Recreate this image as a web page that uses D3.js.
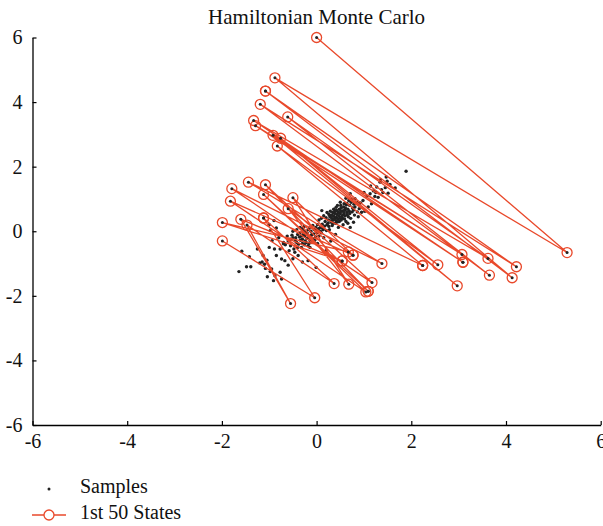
<!DOCTYPE html>
<html>
<head>
<meta charset="utf-8">
<script src="https://cdn.jsdelivr.net/npm/d3@7"></script>
<style>
  body { margin: 0; background: #fff; }
  text { font-family: "Liberation Serif", "DejaVu Serif", serif; }
</style>
</head>
<body>
<script>
const title = 'Hamiltonian Monte Carlo'
const xTicks = [-6, -4, -2, 0, 2, 4, 6]
const yTicks = [-6, -4, -2, 0, 2, 4, 6]
const legendLabels = ['Samples', '1st 50 States']

// first 50 states of the chain (repeats = rejected proposals)
const states = [
  [0, 6.0], [5.29, -0.66], [-0.88, 4.75], [4.13, -1.44], [-1.08, 4.34], [-1.08, 4.34],
  [4.22, -1.10], [-1.19, 3.93], [3.65, -1.36], [-0.61, 3.54], [3.62, -0.84],
  [-1.33, 3.43], [3.09, -0.96], [3.09, -0.96], [-1.29, 3.27], [3.07, -0.72],
  [-0.92, 2.97], [2.97, -1.69], [-0.76, 2.88], [2.56, -1.04], [-0.83, 2.64],
  [2.24, -1.06], [2.24, -1.06], [-1.44, 1.52], [1.38, -1.00], [-1.79, 1.32],
  [1.17, -1.59], [-1.08, 1.44], [1.09, -1.86], [1.09, -1.86], [-1.12, 1.14],
  [1.04, -1.88], [-1.82, 0.93], [0.77, -0.74], [0.77, -0.74], [-0.50, 1.04],
  [0.68, -1.64], [-0.60, 0.70], [0.67, -0.64], [-1.99, 0.27], [0.54, -0.92],
  [0.54, -0.92], [-1.60, 0.37], [-0.55, -2.24], [-1.47, 0.19], [0.37, -1.62],
  [-1.12, 0.41], [-1.12, 0.41], [-0.04, -2.06], [-1.99, -0.30]
]

const samplesUpperTail = [
  [1.89, 1.86], [1.47, 1.68], [1.49, 1.55], [1.66, 1.34], [1.51, 1.18], [1.37, 1.29],
  [1.27, 1.37], [1.34, 1.52], [1.14, 1.40], [1.13, 1.16], [1.06, 1.08], [1.23, 1.08],
  [1.16, 0.85], [1.09, 0.75], [1.55, 1.45], [1.40, 1.20], [1.30, 1.05], [0.98, 0.95],
  [1.20, 1.25], [0.71, 1.16], [0.81, 1.01], [0.95, 0.59], [0.78, 0.28], [1.02, 0.62],
  [0.90, 0.85], [1.45, 1.35], [1.25, 1.20], [1.00, 1.20], [1.35, 1.60]
]
const samplesUpperCore = [
  [0.42, 0.43], [0.11, 0.64], [0.81, 0.75], [0.21, 0.02], [0.71, 0.12], [0.30, 0.50],
  [0.35, 0.35], [0.50, 0.55], [0.55, 0.40], [0.60, 0.65], [0.45, 0.60], [0.40, 0.25],
  [0.25, 0.35], [0.65, 0.50], [0.70, 0.80], [0.75, 0.60], [0.52, 0.72], [0.38, 0.55],
  [0.48, 0.30], [0.58, 0.85], [0.62, 0.30], [0.33, 0.18], [0.28, 0.45], [0.18, 0.30],
  [0.15, 0.48], [0.44, 0.80], [0.68, 0.95], [0.85, 0.90], [0.90, 0.70], [0.80, 0.50],
  [0.56, 0.20], [0.46, 0.12], [0.36, 0.68], [0.22, 0.58], [0.12, 0.22], [0.05, 0.35],
  [0.08, 0.12], [0.66, 0.68], [0.72, 0.40], [0.54, 0.62], [0.47, 0.47], [0.39, 0.40],
  [0.31, 0.28], [0.26, 0.15], [0.60, 0.48], [0.64, 0.58], [0.57, 0.75], [0.50, 0.90],
  [0.42, 0.65], [0.34, 0.58], [0.20, 0.42], [0.14, 0.05], [0.02, 0.20], [0.76, 0.72],
  [0.86, 0.60], [0.93, 0.88], [0.74, 1.00], [0.62, 1.02], [0.52, 0.35], [0.43, 0.52],
  [0.37, 0.46], [0.29, 0.62], [0.58, 0.55], [0.69, 0.62], [0.79, 0.84], [0.48, 0.68],
  [0.41, 0.33], [0.32, 0.40], [0.24, 0.25], [0.17, 0.16], [0.55, 0.50], [0.63, 0.82],
  [0.45, 0.38], [0.35, 0.25], [0.66, 0.25], [0.27, 0.05], [0.10, 0.40], [0.51, 0.80],
  [0.88, 0.45], [0.00, 0.05], [0.46, 0.56], [0.53, 0.46], [0.39, 0.62], [0.61, 0.72],
  [0.33, 0.49], [0.49, 0.40], [0.57, 0.64], [0.44, 0.29], [0.67, 0.45], [0.73, 0.90],
  [0.26, 0.52], [0.36, 0.37], [0.59, 0.38], [0.51, 0.62], [0.41, 0.74], [0.64, 0.86],
  [0.22, 0.20], [0.30, 0.32], [0.70, 0.55], [0.78, 0.66]
]
const samplesLowerCore = [
  [-0.35, 0.12], [-0.14, -0.29], [-0.25, -0.15], [-0.20, -0.05], [-0.30, -0.25],
  [-0.40, -0.10], [-0.10, -0.10], [-0.05, 0.05], [-0.45, -0.30], [-0.50, -0.20],
  [-0.15, 0.10], [-0.28, 0.00], [-0.38, -0.40], [-0.22, -0.35], [-0.08, -0.22],
  [0.00, -0.05], [0.05, -0.15], [-0.55, -0.45], [-0.60, -0.30], [-0.32, -0.50],
  [-0.18, -0.45], [-0.12, 0.00], [-0.42, 0.05], [-0.26, 0.15], [-0.02, 0.12],
  [0.08, 0.00], [-0.48, -0.55], [-0.35, -0.05], [-0.20, -0.22], [-0.30, -0.38],
  [-0.10, -0.35], [-0.06, -0.08], [0.10, -0.05], [-0.52, -0.12], [-0.44, -0.20],
  [-0.24, -0.30], [-0.16, -0.18], [-0.36, -0.18], [-0.28, -0.10], [-0.12, -0.14],
  [-0.04, -0.28], [0.02, -0.38], [-0.58, -0.60], [-0.66, -0.42], [-0.46, -0.65],
  [-0.30, 0.08], [-0.18, 0.05], [-0.40, -0.50], [-0.22, -0.10], [-0.34, -0.28],
  [0.12, 0.10], [-0.08, 0.18], [-0.62, -0.15], [-0.70, -0.35], [-0.50, 0.00],
  [-0.26, -0.42], [0.15, -0.20], [0.04, 0.08], [-0.14, -0.50], [-0.55, -0.25],
  [-0.32, -0.15], [-0.24, -0.02], [-0.42, -0.35], [-0.16, -0.38], [-0.02, -0.18]
]
const samplesLowerTail = [
  [-0.98, 0.02], [-0.94, -0.29], [-0.89, -0.55], [-1.58, -0.62], [-1.42, -0.79],
  [-1.48, -1.10], [-1.39, -1.10], [-1.64, -1.25], [-1.13, -0.75], [-1.15, -0.95],
  [-1.10, -1.02], [-1.20, -0.98], [-1.05, -0.90], [-0.95, -1.17], [-1.04, -1.41],
  [-0.88, -1.38], [-0.77, -1.27], [-0.74, -1.48], [-0.91, -1.53], [-0.70, -0.39],
  [-0.77, -0.55], [-0.39, -0.75], [-0.18, -0.91], [-0.01, -1.12], [-0.74, -0.86],
  [-0.67, -0.91], [-0.85, -0.75], [-1.00, -0.50], [-0.60, -1.05], [-0.50, -0.85],
  [-0.80, -0.20], [-0.30, -0.95], [0.20, -0.60], [0.30, -0.30], [0.40, -0.10],
  [-1.25, -0.55], [-0.98, -1.25], [-1.08, -1.15], [-0.90, 0.33], [-1.00, 0.20],
  [-0.85, 0.10]
]
const samples = [...samplesUpperTail, ...samplesUpperCore, ...samplesLowerCore, ...samplesLowerTail]

const red = '#e9492b'
const width = 603, height = 526
const margin = {top: 37.5, right: 2.3, bottom: 101, left: 32.5}

const svg = d3.select('body').append('svg')
  .attr('width', width)
  .attr('height', height)

const x = d3.scaleLinear().domain([-6, 6]).range([margin.left, width - margin.right])
const y = d3.scaleLinear().domain([-6, 6]).range([height - margin.bottom, margin.top])

const fmt = (d) => String(d)

// Axes (ticks point inward)
const gx = svg.append('g')
  .attr('transform', `translate(0,${height - margin.bottom})`)
  .call(d3.axisBottom(x).tickValues(xTicks).tickFormat(fmt).tickSizeInner(-4).tickSizeOuter(0).tickPadding(9))
const gy = svg.append('g')
  .attr('transform', `translate(${margin.left},0)`)
  .call(d3.axisLeft(y).tickValues(yTicks).tickFormat(fmt).tickSizeInner(-4).tickSizeOuter(0).tickPadding(10))

for (const g of [gx, gy]) {
  g.select('.domain').attr('stroke', '#000').attr('stroke-width', 1.3)
  g.selectAll('.tick line').attr('stroke', '#000').attr('stroke-width', 1.2)
  g.selectAll('.tick text').attr('fill', '#111')
    .style('font-family', '"Liberation Serif", serif').style('font-size', '20px')
}

// Title
svg.append('text')
  .attr('x', x(0)).attr('y', 24)
  .attr('text-anchor', 'middle')
  .style('font-size', '21px')
  .attr('fill', '#111')
  .text(title)

// Samples
svg.append('g').selectAll('circle').data(samples).join('circle')
  .attr('cx', (d) => x(d[0]))
  .attr('cy', (d) => y(d[1]))
  .attr('r', 1.7)
  .attr('fill', '#222')

// Chain of first 50 states
const line = d3.line().x((d) => x(d[0])).y((d) => y(d[1]))
svg.append('path')
  .datum(states)
  .attr('d', line)
  .attr('fill', 'none')
  .attr('stroke', red)
  .attr('stroke-width', 1.3)

svg.append('g').selectAll('circle').data(states).join('circle')
  .attr('cx', (d) => x(d[0]))
  .attr('cy', (d) => y(d[1]))
  .attr('r', 5)
  .attr('fill', 'none')
  .attr('stroke', red)
  .attr('stroke-width', 1.3)

svg.append('g').selectAll('circle').data(states).join('circle')
  .attr('cx', (d) => x(d[0]))
  .attr('cy', (d) => y(d[1]))
  .attr('r', 1.5)
  .attr('fill', '#222')

// Legend
const legend = svg.append('g')
legend.append('circle').attr('cx', 49).attr('cy', 489).attr('r', 1.5).attr('fill', '#222')
legend.append('line').attr('x1', 32).attr('x2', 66).attr('y1', 515).attr('y2', 515)
  .attr('stroke', red).attr('stroke-width', 1.3)
legend.append('circle').attr('cx', 49).attr('cy', 515).attr('r', 5)
  .attr('fill', '#fff').attr('stroke', red).attr('stroke-width', 1.3)
legend.selectAll('text.lab').data(legendLabels).join('text')
  .attr('class', 'lab')
  .attr('x', 80)
  .attr('y', (d, i) => 493 + i * 26)
  .style('font-size', '20px')
  .attr('fill', '#111')
  .text((d) => d)
</script>
</body>
</html>
